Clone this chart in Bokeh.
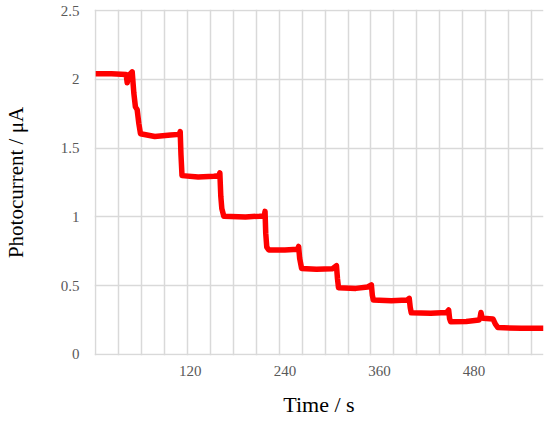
from bokeh.plotting import figure
from bokeh.models import FixedTicker, Range1d
from bokeh.embed import file_html
from bokeh.resources import INLINE

# Photocurrent trace (time in s, current in µA)
time_s = [0, 20, 38.7, 40.0, 41.5, 44, 46.3, 48.4, 50.4, 52.6, 54.7, 56.8, 75, 95, 106,
          107.2, 108.2, 109.5, 130, 150, 156.5, 157.5, 158.7, 160, 162.5, 190, 208, 214,
          214.8, 215.7, 217, 219.5, 240, 256, 257.4, 258.7, 261.2, 280, 300, 305.4, 306.7,
          308, 330, 345, 349.7, 350.9, 352.2, 375, 395, 397.7, 399, 400.3, 425, 445, 447.7,
          448.9, 450.2, 470, 486.2, 487.5, 488.7, 490, 491.3, 503.9, 507, 510.2, 540, 568]
current_uA = [2.04, 2.04, 2.035, 1.975, 2.03, 2.04, 2.055, 1.90, 1.80, 1.78, 1.68, 1.605, 1.585, 1.595, 1.60,
              1.62, 1.45, 1.30, 1.29, 1.295, 1.30, 1.32, 1.15, 1.06, 1.005, 1.0, 1.005, 1.01,
              1.04, 0.88, 0.78, 0.76, 0.76, 0.765, 0.785, 0.70, 0.625, 0.62, 0.622, 0.645, 0.55,
              0.485, 0.48, 0.49, 0.505, 0.43, 0.395, 0.39, 0.395, 0.408, 0.34, 0.302, 0.30, 0.305, 0.323,
              0.26, 0.238, 0.24, 0.25, 0.265, 0.305, 0.27, 0.262, 0.258, 0.22, 0.195, 0.19, 0.19]

x_ticks = [120, 240, 360, 480]
y_ticks = [0, 0.5, 1, 1.5, 2, 2.5]
y_tick_labels = {0: "0", 0.5: "0.5", 1: "1", 1.5: "1.5", 2: "2", 2.5: "2.5"}
X_MIN = -1.5
X_MAX = 568
Y_MIN = -0.008
Y_MAX = 2.508
GRID_STEP = 29.1
N_GRID = 20

p = figure(width=548, height=420, output_backend="svg", toolbar_location=None,
           x_range=Range1d(X_MIN, X_MAX), y_range=Range1d(Y_MIN, Y_MAX),
           min_border_left=92, min_border_right=5, min_border_top=9, min_border_bottom=65)
p.outline_line_color = None
p.background_fill_color = "white"

p.line(time_s, current_uA, line_color="#ff0000", line_width=5.5, line_join="round")

p.xaxis.ticker = FixedTicker(ticks=x_ticks)
p.yaxis.ticker = FixedTicker(ticks=y_ticks)
p.yaxis.major_label_overrides = y_tick_labels
p.xgrid.ticker = FixedTicker(ticks=[i * GRID_STEP for i in range(N_GRID)])
p.ygrid.ticker = FixedTicker(ticks=y_ticks)
for g in (p.xgrid, p.ygrid):
    g.grid_line_color = "#d9d9d9"
    g.grid_line_width = 1.5

for ax in (p.xaxis, p.yaxis):
    ax.axis_line_color = None
    ax.major_tick_line_color = None
    ax.minor_tick_line_color = None
    ax.major_tick_out = 0
    ax.major_tick_in = 0
    ax.minor_tick_out = 0
    ax.major_label_text_font = "Liberation Serif"
    ax.major_label_text_font_size = "15px"
    ax.major_label_text_color = "#595959"
    ax.axis_label_text_font = "Liberation Serif"
    ax.axis_label_text_font_style = "normal"
    ax.axis_label_text_color = "#000000"

p.xaxis.axis_label = "Time / s"
p.xaxis.axis_label_text_font_size = "22px"
p.xaxis.major_label_standoff = 10
p.xaxis.axis_label_standoff = 13

p.yaxis.axis_label = "Photocurrent / μA"
p.yaxis.axis_label_text_font_size = "21px"
p.yaxis.major_label_standoff = 15
p.yaxis.axis_label_standoff = 30

open("out.html", "w").write(file_html(p, INLINE))
